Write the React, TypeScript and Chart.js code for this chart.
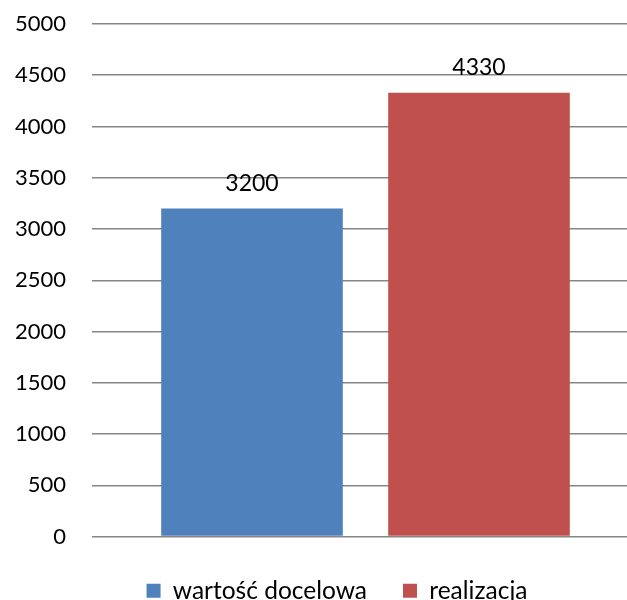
import React, { useEffect, useRef } from "react";
import { Chart, registerables } from "chart.js";

Chart.register(...registerables);

const categories = [""];
const seriesNames = ["wartość docelowa", "realizacja"];
const targetValues = [3200];
const actualValues = [4330];
const yTicks = [0, 500, 1000, 1500, 2000, 2500, 3000, 3500, 4000, 4500, 5000];

const FONT = "Lato, 'Open Sans', sans-serif";

const valueLabels = {
  id: "valueLabels",
  afterDatasetsDraw(chart: any) {
    const ctx = chart.ctx;
    ctx.save();
    ctx.font = `23px ${FONT}`;
    ctx.fillStyle = "#000";
    ctx.textAlign = "center";
    ctx.textBaseline = "alphabetic";
    chart.data.datasets.forEach((ds: any, i: number) => {
      const meta = chart.getDatasetMeta(i);
      meta.data.forEach((bar: any, j: number) => {
        ctx.fillText(String(ds.data[j]), bar.x, bar.y - 18);
      });
    });
    ctx.restore();
  },
};

export default function App() {
  const ref = useRef<HTMLCanvasElement>(null);
  useEffect(() => {
    if (!ref.current) return;
    const chart = new Chart(ref.current, {
      type: "bar",
      data: {
        labels: categories,
        datasets: [
          { label: seriesNames[0], data: targetValues, backgroundColor: "#4F81BD" },
          { label: seriesNames[1], data: actualValues, backgroundColor: "#C0504D" },
        ],
      },
      options: {
        animation: false,
        responsive: false,
        devicePixelRatio: 1,
        layout: { padding: { top: 0, right: 0, left: 35, bottom: 0 } },
        datasets: { bar: { categoryPercentage: 0.83, barPercentage: 0.8 } },
        plugins: {
          tooltip: { enabled: false },
          legend: {
            position: "bottom",
            labels: {
              boxWidth: 14,
              boxHeight: 14,
              padding: 36,
              color: "#000",
              font: { family: FONT, size: 24.5 },
            },
          },
        },
        scales: {
          x: {
            ticks: { display: false },
            grid: { display: false },
            border: { display: false },
            afterFit: (axis: any) => {
              axis.height = 6;
            },
          },
          y: {
            min: 0,
            max: 5000,
            afterBuildTicks: (axis: any) => {
              axis.ticks = yTicks.map((v) => ({ value: v }));
            },
            afterFit: (axis: any) => {
              axis.width = 57;
              axis.paddingTop = 24;
              axis.paddingBottom = 0;
              axis._computeLabelArea = () => undefined;
            },
            ticks: {
              color: "#000",
              padding: 26,
              font: { family: FONT, size: 22 },
              callback: (v: any) => String(v),
            },
            grid: { color: "#868686", lineWidth: 1.5, drawTicks: false },
            border: { display: false },
          },
        },
      },
      plugins: [valueLabels],
    });
    return () => chart.destroy();
  }, []);
  return (
    <div style={{ position: "fixed", left: 0, top: 0, width: 627, height: 600, overflow: "hidden", background: "#fff" }}>
      <canvas ref={ref} width={639} height={613} style={{ display: "block" }} />
    </div>
  );
}
